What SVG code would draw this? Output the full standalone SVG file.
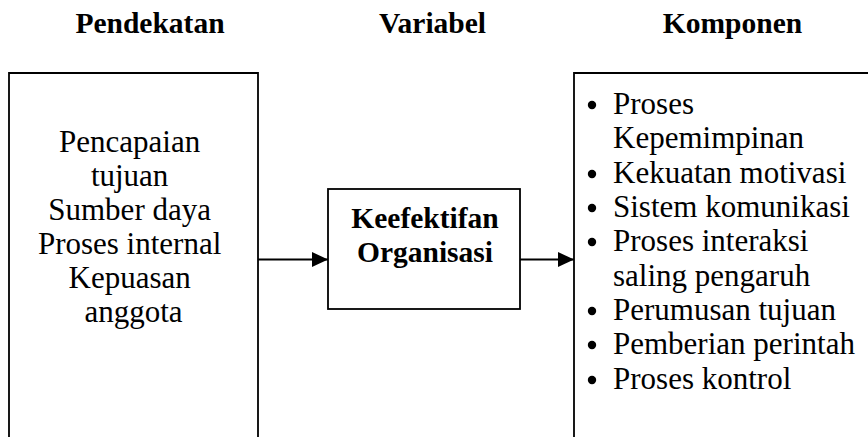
<svg xmlns="http://www.w3.org/2000/svg" width="868" height="437" viewBox="0 0 868 437">
<style>
.t{font-family:"Liberation Serif","Times New Roman","DejaVu Serif",serif;font-size:31px;fill:#000}
.b{font-family:"Liberation Serif","Times New Roman","DejaVu Serif",serif;font-size:29.5px;font-weight:bold;fill:#000}
.box{fill:none;stroke:#000;stroke-width:1.8}
.con{stroke:#000;stroke-width:1.8;fill:none}
</style>
<defs>
<marker id="ah" viewBox="0 0 16 15" refX="16" refY="7.5" markerWidth="16" markerHeight="15" markerUnits="userSpaceOnUse" orient="auto">
<path d="M0,0 L16,7.5 L0,15 Z" fill="#000"/>
</marker>
</defs>
<g id="headers">
<text class="b" x="150" y="33" text-anchor="middle">Pendekatan</text>
<text class="b" x="432.5" y="33" text-anchor="middle">Variabel</text>
<text class="b" x="732.5" y="33" text-anchor="middle">Komponen</text>
</g>
<g id="pendekatan">
<path class="box" d="M9,438 V73 H258 V438"/>
<text class="t" text-anchor="middle" x="133.5">
<tspan x="133.5" y="152">Pencapaian</tspan>
<tspan x="133.5" y="186">tujuan</tspan>
<tspan x="133.5" y="220">Sumber daya</tspan>
<tspan x="133.5" y="254">Proses internal</tspan>
<tspan x="133.5" y="288">Kepuasan</tspan>
<tspan x="133.5" y="322">anggota</tspan>
</text>
</g>
<g id="variabel">
<rect class="box" x="328" y="189" width="192" height="120"/>
<text class="b" x="425" y="228" text-anchor="middle">Keefektifan</text>
<text class="b" x="425" y="262" text-anchor="middle">Organisasi</text>
</g>
<g id="komponen">
<path class="box" d="M574,438 V73 H870"/>
<g fill="#000">
<circle cx="592" cy="105" r="4.2"/>
<circle cx="592" cy="174" r="4.2"/>
<circle cx="592" cy="208" r="4.2"/>
<circle cx="592" cy="242" r="4.2"/>
<circle cx="592" cy="311" r="4.2"/>
<circle cx="592" cy="345" r="4.2"/>
<circle cx="592" cy="380" r="4.2"/>
</g>
<text class="t">
<tspan x="613" y="114">Proses</tspan>
<tspan x="613" y="148">Kepemimpinan</tspan>
<tspan x="613" y="183">Kekuatan motivasi</tspan>
<tspan x="613" y="217">Sistem komunikasi</tspan>
<tspan x="613" y="251">Proses interaksi</tspan>
<tspan x="613" y="286">saling pengaruh</tspan>
<tspan x="613" y="320">Perumusan tujuan</tspan>
<tspan x="613" y="354">Pemberian perintah</tspan>
<tspan x="613" y="389">Proses kontrol</tspan>
</text>
</g>
<g id="connectors">
<line class="con" x1="258" y1="259.5" x2="328" y2="259.5" marker-end="url(#ah)"/>
<line class="con" x1="520" y1="259.5" x2="574" y2="259.5" marker-end="url(#ah)"/>
</g>
</svg>
